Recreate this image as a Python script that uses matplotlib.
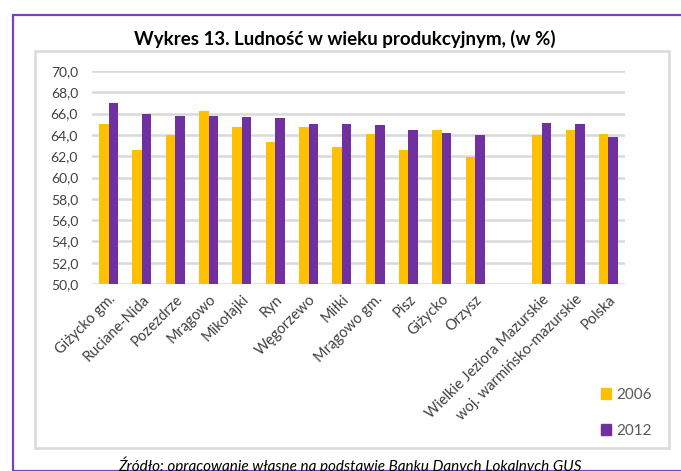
import matplotlib
matplotlib.use("Agg")
import matplotlib.pyplot as plt
import numpy as np
from matplotlib.patches import Rectangle, Patch

plt.rcParams['font.family'] = ['Lato', 'DejaVu Sans']

categories = ["Giżycko gm.", "Ruciane-Nida", "Pozezdrze", "Mrągowo", "Mikołajki",
              "Ryn", "Węgorzewo", "Miłki", "Mrągowo gm.", "Pisz", "Giżycko",
              "Orzysz", "", "Wielkie Jeziora Mazurskie", "woj. warmińsko-mazurskie",
              "Polska"]
v2006 = [65.0, 62.6, 64.0, 66.2, 64.7, 63.3, 64.7, 62.9, 64.1, 62.6, 64.5,
         61.9, np.nan, 64.0, 64.5, 64.1]
v2012 = [67.0, 66.0, 65.8, 65.8, 65.7, 65.6, 65.0, 65.0, 64.9, 64.5, 64.2,
         64.0, np.nan, 65.1, 65.0, 63.8]
yticks = np.arange(50, 70.1, 2)

W, H = 681, 471
fig = plt.figure(figsize=(W / 100, H / 100), dpi=100)

# outer purple frame and grey chart box
fig.patches.append(Rectangle((12.5 / W, 0), 1, 1 - 14.5 / H, transform=fig.transFigure,
                             fill=False, edgecolor='#7B3FBF', linewidth=1.6))
fig.patches.append(Rectangle((34.5 / W, 1 - 448 / H), (668.5 - 34.5) / W, (448 - 51) / H,
                             transform=fig.transFigure, fill=False,
                             edgecolor='#D9D9D9', linewidth=1.8))

ax = fig.add_axes([92 / W, 1 - 284 / H, (625 - 92) / W, (284 - 71) / H])
x = np.arange(len(categories))
bw = 0.285
ax.bar(x - bw / 2, v2006, bw, color='#FFC000', label='2006', zorder=3)
ax.bar(x + bw / 2, v2012, bw, color='#7030A0', label='2012', zorder=3)

ax.set_ylim(50, 70)
ax.set_xlim(-0.5, len(categories) - 0.5)
ax.set_yticks(yticks)
ax.set_yticklabels([f"{t:.1f}".replace('.', ',') for t in yticks])
ax.yaxis.grid(True, color='#D9D9D9', linewidth=1.8, zorder=0)
ax.set_xticks(x)
ax.set_xticklabels(categories, rotation=45, ha='right', rotation_mode='anchor')
ax.tick_params(axis='both', length=0, colors='#404040', labelsize=10)
ax.tick_params(axis='x', pad=6, labelsize=10.5)
ax.tick_params(axis='y', pad=10)
for s in ax.spines.values():
    s.set_visible(False)

fig.text(345 / W, 1 - 39 / H, "Wykres 13. Ludność w wieku produkcyjnym, (w %)",
         ha='center', va='center', fontsize=13.5, fontweight='bold', color='black')

handles = [Patch(color='#FFC000', label='2006'), Patch(color='#7030A0', label='2012')]
fig.legend(handles=handles, loc='upper left', bbox_to_anchor=(587 / W, 1 - 374 / H),
           frameon=False, handlelength=0.7, handleheight=0.7, handletextpad=0.35,
           labelspacing=1.45, fontsize=11, labelcolor='#595959')

# source note sits at the bottom edge, partly cut off as in the original
fig.text(350 / W, 1 - 457 / H,
         "Źródło: opracowanie własne na podstawie Banku Danych Lokalnych GUS",
         ha='center', va='top', fontsize=11, fontstyle='italic', color='black')

fig.savefig('out.png', dpi=100)
